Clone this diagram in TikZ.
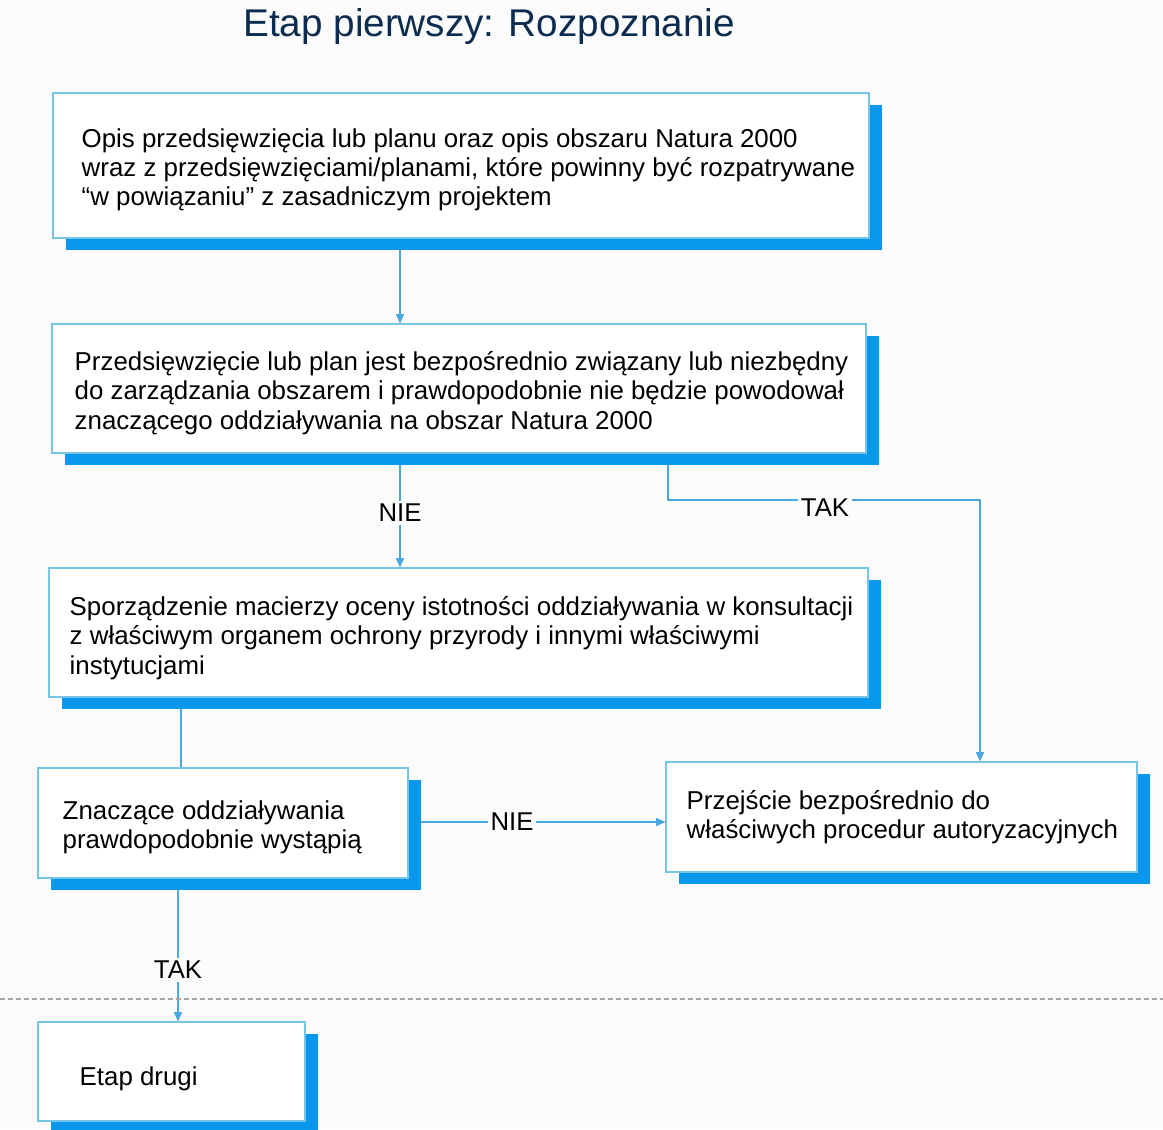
\documentclass[tikz,border=0pt]{standalone}
\usepackage{fontspec}
\setmainfont{Liberation Sans}
\usetikzlibrary{arrows.meta,calc,shadows}
\definecolor{bgc}{HTML}{FBFBFB}
\definecolor{shadowblue}{HTML}{0897EA}
\definecolor{edgeblue}{HTML}{78C4E6}
\definecolor{linkblue}{HTML}{4AA8E0}
\definecolor{titlec}{HTML}{0B2C4E}
\pgfdeclarelayer{bglayer}
\pgfdeclarelayer{linelayer}
\pgfsetlayers{bglayer,linelayer,main}
\tikzset{
  boxnode/.style={rectangle, draw=edgeblue, line width=0.8pt, fill=white, inner sep=0pt,
    general shadow={fill=shadowblue, shadow xshift=10pt, shadow yshift=-9pt}},
  txt/.style={anchor=west, align=left, inner sep=0pt, font=\fontsize{19.4}{21.9}\selectfont},
  lbl/.style={inner sep=2pt, font=\fontsize{19.3}{22}\selectfont},
  link/.style={draw=linkblue, line width=0.8pt},
  arr/.style={link, -{Triangle[length=7pt,width=6pt]}},
}
\begin{document}
\begin{tikzpicture}[x=0.75pt,y=-0.75pt]
\begin{pgfonlayer}{bglayer}
\fill[bgc] (0,0) rectangle (1163,1129);
\end{pgfonlayer}
\useasboundingbox (0,0) rectangle (1163,1129);

\node[font=\fontsize{29}{34}\selectfont, text=titlec] (title) at (489,26) {Etap pierwszy: Rozpoznanie};

\node[boxnode, minimum width=816*0.75pt, minimum height=145*0.75pt] (b1) at (461,165.5) {};
\node[txt] (b1t) at ($(b1.west)+(29,4.5)$) {Opis przedsięwzięcia lub planu oraz opis obszaru Natura 2000\\wraz z przedsięwzięciami/planami, które powinny być rozpatrywane\\“w powiązaniu” z zasadniczym projektem};

\node[boxnode, minimum width=814*0.75pt, minimum height=129*0.75pt] (b2) at (459,388.5) {};
\node[txt] (b2t) at ($(b2.west)+(23,4.5)$) {Przedsięwzięcie lub plan jest bezpośrednio związany lub niezbędny\\do zarządzania obszarem i prawdopodobnie nie będzie powodował\\znaczącego oddziaływania na obszar Natura 2000};

\node[boxnode, minimum width=819*0.75pt, minimum height=129*0.75pt] (b3) at (458.5,632.5) {};
\node[txt] (b3t) at ($(b3.west)+(21,5.5)$) {Sporządzenie macierzy oceny istotności oddziaływania w konsultacji\\z właściwym organem ochrony przyrody i innymi właściwymi\\instytucjami};

\node[boxnode, minimum width=370*0.75pt, minimum height=110*0.75pt] (b4) at (223,823) {};
\node[txt] (b4t) at ($(b4.west)+(25,4)$) {Znaczące oddziaływania\\prawdopodobnie wystąpią};

\node[boxnode, minimum width=471*0.75pt, minimum height=110*0.75pt] (b5) at (901.5,817) {};
\node[txt] (b5t) at ($(b5.west)+(21,0)$) {Przejście bezpośrednio do\\właściwych procedur autoryzacyjnych};

\node[boxnode, minimum width=267*0.75pt, minimum height=99*0.75pt] (b6) at (171.5,1071.5) {};
\node[txt] (b6t) at ($(b6.west)+(42,7)$) {Etap drugi};

% labels
\node[lbl] (nie1) at (400,513) {NIE};
\node[lbl] (tak1) at (825,508) {TAK};
\node[lbl] (nie2) at (512,822) {NIE};
\node[lbl] (tak2) at (178,970) {TAK};

\coordinate (c1) at (400,0);
\coordinate (t1) at (668,500);
\coordinate (t2) at (980,500);
\coordinate (c3) at (181,0);
\coordinate (d0) at (0,999);
\coordinate (d1) at (1163,999);

\begin{pgfonlayer}{linelayer}
\draw[arr] (c1 |- b1.south) -- (c1 |- b2.north);
\draw[link] (nie1 |- b2.south) -- (nie1.north);
\draw[arr] (nie1.south) -- (nie1 |- b3.north);
\draw[link] (t1 |- b2.south) -- (t1) -- (tak1.west |- t1);
\draw[arr] (tak1.east |- t2) -- (t2) -- (t2 |- b5.north);
\draw[link] (c3 |- b3.south) -- (c3 |- b4.north);
\draw[link] (b4.east |- nie2) -- (nie2.west);
\draw[arr] (nie2.east) -- (b5.west |- nie2);
\draw[link] (tak2 |- b4.south) -- (tak2.north);
\draw[arr] (tak2.south) -- (tak2 |- b6.north);
\draw[gray!70, line width=0.8pt, dash pattern=on 4pt off 2pt] (d0) -- (d1);
\end{pgfonlayer}
\end{tikzpicture}
\end{document}
